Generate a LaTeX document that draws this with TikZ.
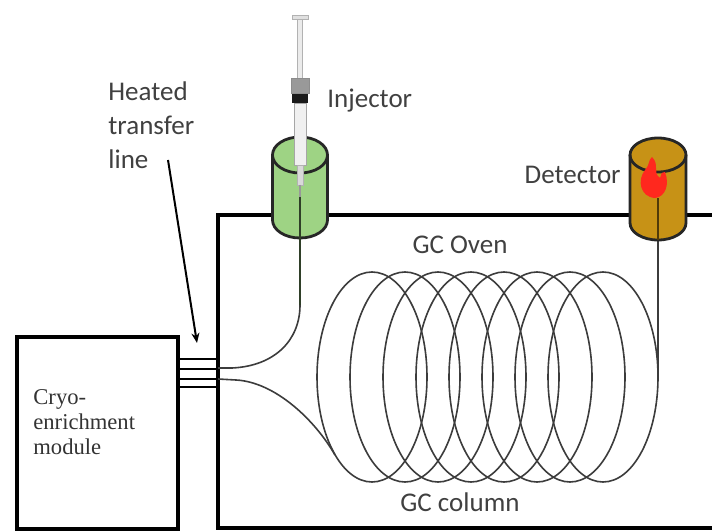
\documentclass[tikz,border=0pt]{standalone}
\usepackage{fontspec}
\setmainfont{Liberation Serif}
\newfontfamily\labelfont{Carlito}
\usetikzlibrary{arrows.meta}

\definecolor{injgreen}{RGB}{158,211,132}
\definecolor{detgold}{RGB}{199,146,22}
\definecolor{flamered}{RGB}{255,40,30}
\definecolor{labelgrey}{RGB}{64,64,64}
\definecolor{coilgrey}{RGB}{60,60,60}

\begin{document}
\begin{tikzpicture}[
    x=0.5pt, y=0.5pt,
    wall/.style={line width=1.8pt},
    coil/.style={line width=0.8pt, draw=coilgrey},
    tube/.style={line width=0.8pt, draw=coilgrey},
    lbl/.style={font=\labelfont\fontsize{13.5}{17}\selectfont, text=labelgrey, inner sep=0pt},
    can/.style={line width=1.4pt, draw=black!85}
  ]
  \useasboundingbox (0,0) rectangle (712,531);

  % oven and cryo module
  \draw[wall] (712,316) -- (218,316) -- (218,3) -- (712,3);
  \draw[wall] (17,194) rectangle (178,2);

  % heated transfer line
  \draw[line width=1.4pt] (178,172) -- (218,172);
  \draw[line width=0.9pt] (178,162) -- (218,162);
  \draw[line width=0.9pt] (178,152) -- (218,152);
  \draw[line width=1.4pt] (178,144) -- (218,144);

  % column coil
  \foreach \k in {0,...,7}
    \draw[coil] (372+33*\k,154) ellipse [x radius=55, y radius=105];

  \draw[tube] (218,163) -- (232,163) .. controls (275,165) and (300,191) .. (300,226);
  \draw[tube] (218,152) -- (236,151) .. controls (275,149) and (315,111) .. (335,76);
  \draw[tube] (658,154) -- (658,300);

  % injector
\begin{scope}[shift={(300,0)}]
  \fill[injgreen] (-27.5,376) -- (-27.5,311)
    arc[start angle=180, end angle=360, x radius=27.5, y radius=18] -- (27.5,376)
    arc[start angle=0, end angle=180, x radius=27.5, y radius=18] -- cycle;
  \draw[can] (-27.5,376) -- (-27.5,311)
    arc[start angle=180, end angle=360, x radius=27.5, y radius=18] -- (27.5,376);
  \draw[can] (0,376) ellipse [x radius=27.5, y radius=18];
  \draw[tube, draw=black!70!injgreen] (0,226) -- (0,334);

  % syringe
  \filldraw[draw=black!30, fill=black!8] (-2.5,513) rectangle (2.5,453);
  \filldraw[draw=black!30, fill=black!12] (-8,516) rectangle (8,512);
  \filldraw[draw=black!45, fill=black!40] (-9,453) rectangle (9,438);
  \fill[black!90] (-8,437) rectangle (8,428);
  \filldraw[draw=black!35, fill=black!6] (-6,428) rectangle (6,366);
  \filldraw[draw=black!30, fill=black!15] (-3,366) rectangle (3,346);
  \draw[black!40, line width=0.6pt] (0,346) -- (0,334);
\end{scope}

  % detector
\begin{scope}[shift={(658,0)}]
  \fill[detgold] (-28,376) -- (-28,308)
    arc[start angle=180, end angle=360, x radius=28, y radius=17] -- (28,376)
    arc[start angle=0, end angle=180, x radius=28, y radius=17] -- cycle;
  \draw[can] (-28,376) -- (-28,308)
    arc[start angle=180, end angle=360, x radius=28, y radius=17] -- (28,376);
  \draw[can] (0,376) ellipse [x radius=28, y radius=17];
  \draw[tube, draw=black!60!detgold] (0,291) -- (0,333);

  % flame
  \fill[flamered] (-3,333) .. controls (-18,334) and (-21,351) .. (-13,361)
    .. controls (-8,366) and (-10,371) .. (-6,374)
    .. controls (2,366) and (-6,359) .. (2,353)
    .. controls (4,359) .. (7,359)
    .. controls (12,346) and (7,334) .. (-3,333) -- cycle;
\end{scope}

  % labels
  \node[lbl, align=left, anchor=west] (heated) at (108,406) {Heated\\transfer\\line};
  \node[lbl, anchor=west] (injector) at (327,430) {Injector};
  \node[lbl, anchor=east] (detector) at (621,356) {Detector};
  \node[lbl] (oven) at (460,286) {GC Oven};
  \node[lbl] (column) at (460,29) {GC column};
  \node[font=\fontsize{11.3}{12.5}\selectfont, text=black!80, align=left,
        anchor=west, inner sep=0pt] (cryo) at (33,109) {Cryo-\\enrichment\\module};

  \coordinate (arrow start) at (168,371);
  \coordinate (arrow tip) at (197,188);
  \draw[line width=1pt, -{Stealth[length=5pt, width=4pt]}] (arrow start) -- (arrow tip);

\end{tikzpicture}
\end{document}
